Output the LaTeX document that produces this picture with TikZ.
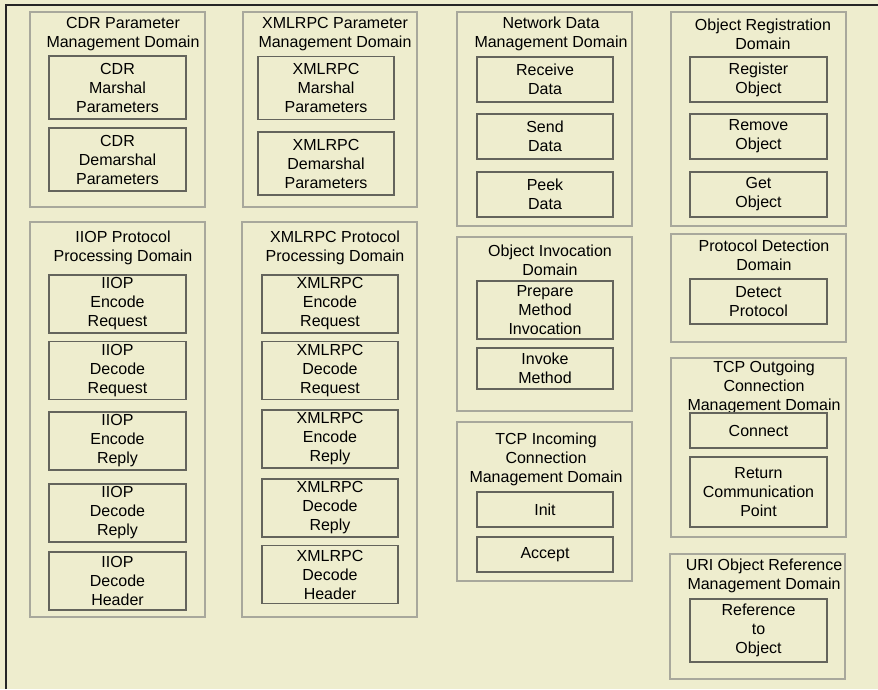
\documentclass[tikz,border=0pt]{standalone}
\usepackage{fontspec}
\setmainfont{Liberation Sans}
\usetikzlibrary{fit}
\definecolor{paper}{RGB}{238,237,206}
\definecolor{domline}{RGB}{168,168,156}
\definecolor{boxline}{RGB}{100,100,92}

\begin{document}
\begin{tikzpicture}[x=0.75pt,y=-0.75pt,font=\fontsize{12}{14.25}\selectfont,
  dombox/.style={draw=domline,line width=0.8pt,inner sep=0pt},
  domtitle/.style={align=center,inner sep=0pt},
  blk/.style={draw=boxline,line width=0.9pt,inner sep=0pt,align=center,minimum width=102.75pt},
  h1/.style={minimum height=26.25pt},
  h2/.style={minimum height=33.75pt},
  h3/.style={minimum height=43.5pt},
  hp/.style={minimum height=47.25pt}]
  \fill[paper] (0,0) rectangle (878,689);
  \useasboundingbox (0,0) rectangle (878,689);
  \draw[line width=1.4pt,black!85] (6,689) -- (6,5) -- (878,5);

  % CDR parameters
  \node[dombox,fit={(30,12) (205,207)}] (cdrdom) {};
  \node[domtitle] (cdrtitle) at (123,34.5) {CDR Parameter\\Management Domain};
  \node[blk,hp] (cdrmarsh) at (117.5,87.5) {CDR\\Marshal\\Parameters};
  \node[blk,hp] (cdrdemarsh) at (117.5,159.5) {CDR\\Demarshal\\Parameters};

  % IIOP protocol
  \node[dombox,fit={(30,222) (205,617)}] (iiopdom) {};
  \node[domtitle] (iioptitle) at (123,247.5) {IIOP Protocol\\Processing Domain};
  \node[blk,h3] (iiopencreq) at (117.5,304) {IIOP\\Encode\\Request};
  \node[blk,h3] (iiopdecreq) at (117.5,370.5) {IIOP\\Decode\\Request};
  \node[blk,h3] (iiopencrep) at (117.5,441) {IIOP\\Encode\\Reply};
  \node[blk,h3] (iiopdecrep) at (117.5,513) {IIOP\\Decode\\Reply};
  \node[blk,h3] (iiopdechdr) at (117.5,581) {IIOP\\Decode\\Header};

  % XMLRPC parameters
  \node[dombox,fit={(243,12) (417,207)}] (xmlpdom) {};
  \node[domtitle] (xmlptitle) at (335,34.5) {XMLRPC Parameter\\Management Domain};
  \node[blk,hp,minimum width=102pt] (xmlmarsh) at (326,88) {XMLRPC\\Marshal\\Parameters};
  \node[blk,hp,minimum width=102pt] (xmldemarsh) at (326,163.5) {XMLRPC\\Demarshal\\Parameters};

  % XMLRPC protocol
  \node[dombox,fit={(242,222) (417,617)}] (xmlrdom) {};
  \node[domtitle] (xmlrtitle) at (335,247.5) {XMLRPC Protocol\\Processing Domain};
  \node[blk,h3,minimum width=102pt] (xmlencreq) at (330,304) {XMLRPC\\Encode\\Request};
  \node[blk,h3,minimum width=102pt] (xmldecreq) at (330,370.5) {XMLRPC\\Decode\\Request};
  \node[blk,h3,minimum width=102pt] (xmlencrep) at (330,439) {XMLRPC\\Encode\\Reply};
  \node[blk,h3,minimum width=102pt] (xmldecrep) at (330,508) {XMLRPC\\Decode\\Reply};
  \node[blk,h3,minimum width=102pt] (xmldechdr) at (330,574.5) {XMLRPC\\Decode\\Header};

  % network data
  \node[dombox,fit={(457,12) (632,226)}] (netdom) {};
  \node[domtitle] (nettitle) at (551,34) {Network Data\\Management Domain};
  \node[blk,h2,minimum width=102pt] (recv) at (545,79.5) {Receive\\Data};
  \node[blk,h2,minimum width=102pt] (send) at (545,136.5) {Send\\Data};
  \node[blk,h2,minimum width=102pt] (peek) at (545,194.5) {Peek\\Data};

  % object invocation
  \node[dombox,fit={(457,237) (632,411)}] (invdom) {};
  \node[domtitle] (invtitle) at (550,260) {Object Invocation\\Domain};
  \node[blk,h3,minimum width=102pt] (prep) at (545,310) {Prepare\\Method\\Invocation};
  \node[blk,minimum width=102pt,minimum height=30.75pt] (invoke) at (545,368.5) {Invoke\\Method};

  % TCP incoming
  \node[dombox,fit={(457,422) (632,581)}] (tcpindom) {};
  \node[domtitle] (tcpintitle) at (546,459) {TCP Incoming\\Connection\\Management Domain};
  \node[blk,h1,minimum width=102pt] (init) at (545,509.5) {Init};
  \node[blk,h1,minimum width=102pt] (accept) at (545,554.5) {Accept};

  % object registration
  \node[dombox,fit={(671,12) (846,226)}] (regdom) {};
  \node[domtitle] (regtitle) at (763,34) {Object Registration\\Domain};
  \node[blk,h2] (register) at (758.5,79.5) {Register\\Object};
  \node[blk,h2] (remove) at (758.5,136.5) {Remove\\Object};
  \node[blk,h2] (get) at (758.5,194.5) {Get\\Object};

  % protocol detection
  \node[dombox,fit={(671,234) (846,342)}] (detdom) {};
  \node[domtitle] (dettitle) at (764,255) {Protocol Detection\\Domain};
  \node[blk,h2] (detect) at (758.5,301.5) {Detect\\Protocol};

  % TCP outgoing
  \node[dombox,fit={(671,358) (846,537)}] (tcpoutdom) {};
  \node[domtitle] (tcpouttitle) at (764,387) {TCP Outgoing\\Connection\\Management Domain};
  \node[blk,h1] (connect) at (758.5,430.5) {Connect};
  \node[blk,minimum height=52.5pt] (retpoint) at (758.5,492) {Return\\Communication\\Point};

  % URI reference
  \node[dombox,fit={(670,554) (845,679)}] (uridom) {};
  \node[domtitle] (urititle) at (764,576) {URI Object Reference\\Management Domain};
  \node[blk,hp] (ref) at (758.5,630.5) {Reference\\to\\Object};
\end{tikzpicture}
\end{document}
